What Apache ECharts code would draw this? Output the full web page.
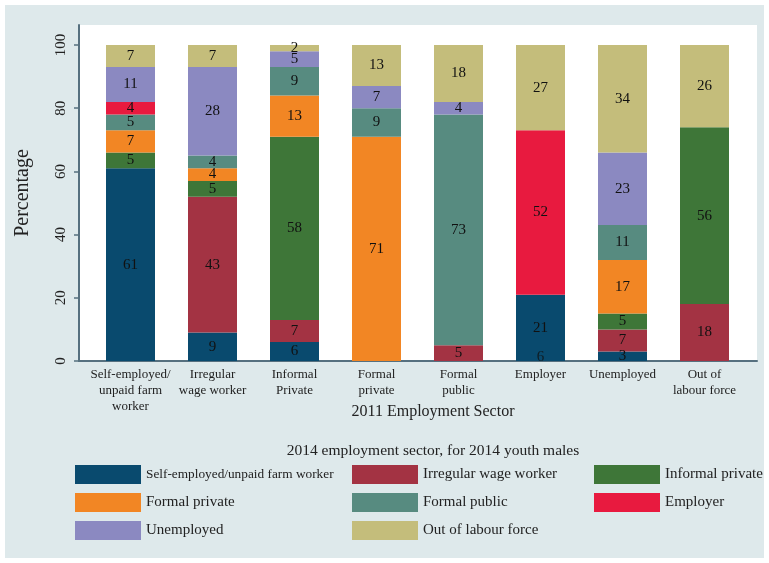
<!DOCTYPE html>
<html>
<head>
<meta charset="utf-8">
<script src="https://cdn.jsdelivr.net/npm/echarts@6/dist/echarts.min.js"></script>
<style>
	html, body { margin: 0; padding: 0; background: #fff; }
	#main { position: absolute; left: 5px; top: 5px; width: 759px; height: 553px; }
</style>
</head>
<body>
<div id="main"></div>
<script>
// 2011 sector (x axis)
var categories = ['Self-employed/\nunpaid farm\nworker', 'Irregular\nwage worker', 'Informal\nPrivate', 'Formal\nprivate',
	'Formal\npublic', 'Employer', 'Unemployed', 'Out of\nlabour force'];

// 2014 sector shares, one array per stacked segment
var selfEmployed = [61, 9, 6, 0, 0, 21, 3, 0];
var irregularWage = [0, 43, 7, 0, 5, 0, 7, 18];
var informalPrivate = [5, 5, 58, 0, 0, 0, 5, 56];
var formalPrivate = [7, 4, 13, 71, 0, 0, 17, 0];
var formalPublic = [5, 4, 9, 9, 73, 0, 11, 0];
var employer = [4, 0, 0, 0, 0, 52, 0, 0];
var unemployed = [11, 28, 5, 7, 4, 0, 23, 0];
var outOfLabour = [7, 7, 2, 13, 18, 27, 34, 26];

var yTicks = [0, 20, 40, 60, 80, 100];

// stray label printed at the foot of the Employer bar
var extraLabels = [['Employer', 1.2, '6']];

var FONT = 'Liberation Serif';
var AXIS_COLOR = '#56707f';
var Y_MAX = 106.33;

var seriesDefs = [
	{ name: 'Self-employed/unpaid farm worker', data: selfEmployed, color: '#094a6e' },
	{ name: 'Irregular wage worker', data: irregularWage, color: '#a33343' },
	{ name: 'Informal private', data: informalPrivate, color: '#3e7638' },
	{ name: 'Formal private', data: formalPrivate, color: '#f28624' },
	{ name: 'Formal public', data: formalPublic, color: '#578b80' },
	{ name: 'Employer', data: employer, color: '#e81a3f' },
	{ name: 'Unemployed', data: unemployed, color: '#8b89c1' },
	{ name: 'Out of labour force', data: outOfLabour, color: '#c4bd7b' }
];

var series = seriesDefs.map(function (d) {
	return {
		name: d.name,
		type: 'bar',
		stack: 'total',
		xAxisIndex: 0,
		yAxisIndex: 0,
		barWidth: 49,
		data: d.data,
		itemStyle: { color: d.color },
		label: {
			show: true,
			position: 'inside',
			color: '#111',
			fontFamily: FONT,
			fontSize: 15,
			formatter: function (p) { return p.value > 0 ? p.value : ''; }
		}
	};
});

series.push({
	type: 'scatter',
	xAxisIndex: 0,
	yAxisIndex: 0,
	symbolSize: 0,
	silent: true,
	data: extraLabels.map(function (e) { return [e[0], e[1]]; }),
	label: {
		show: true,
		position: 'inside',
		color: '#111',
		fontFamily: FONT,
		fontSize: 15,
		formatter: function (p) { return extraLabels[p.dataIndex][2]; }
	}
});

function legendCol(left, names) {
	return {
		orient: 'vertical',
		left: left,
		top: 460,
		padding: 0,
		itemWidth: 66,
		itemHeight: 19,
		itemGap: 9,
		icon: 'rect',
		selectedMode: false,
		textStyle: { fontFamily: FONT, fontSize: 15, color: '#222' },
		data: names.map(function (n) {
			if (n === 'Self-employed/unpaid farm worker') {
				return { name: n, textStyle: { fontSize: 13.3 } };
			}
			return { name: n };
		})
	};
}

var option = {
	backgroundColor: '#dee9eb',
	animation: false,
	title: [
		{
			text: '2011 Employment Sector',
			left: 423, top: 394, textAlign: 'center',
			textStyle: { fontFamily: FONT, fontSize: 16, fontWeight: 'normal', color: '#222' }
		},
		{
			text: '2014 employment sector, for 2014 youth males',
			left: 423, top: 433, textAlign: 'center',
			textStyle: { fontFamily: FONT, fontSize: 15.5, fontWeight: 'normal', color: '#222' }
		}
	],
	legend: [
		legendCol(70, ['Self-employed/unpaid farm worker', 'Formal private', 'Unemployed']),
		legendCol(347, ['Irregular wage worker', 'Formal public', 'Out of labour force']),
		legendCol(589, ['Informal private', 'Employer'])
	],
	grid: [
		{ left: 84.5, right: 18.5, top: 20, bottom: 197 },
		{ left: 72, right: 7, top: 20, bottom: 197, show: true, backgroundColor: '#fff', borderWidth: 0 }
	],
	xAxis: [
		{
			type: 'category', gridIndex: 0, data: categories,
			axisLine: { show: false }, axisTick: { show: false },
			axisLabel: { fontFamily: FONT, fontSize: 13, color: '#222', lineHeight: 16, margin: 6, interval: 0 }
		},
		{
			type: 'value', gridIndex: 1, min: 0, max: 1,
			axisLine: { show: true, lineStyle: { color: AXIS_COLOR, width: 2 } },
			axisTick: { show: false }, axisLabel: { show: false }, splitLine: { show: false }
		}
	],
	yAxis: [
		{
			type: 'value', gridIndex: 0, min: 0, max: Y_MAX, show: false, splitLine: { show: false }
		},
		{
			type: 'value', gridIndex: 1, min: 0, max: Y_MAX,
			name: 'Percentage', nameLocation: 'middle', nameGap: 46,
			nameTextStyle: { fontFamily: FONT, fontSize: 20, color: '#222' },
			axisLine: { show: true, lineStyle: { color: AXIS_COLOR, width: 2 } },
			axisTick: { show: true, length: 5, customValues: yTicks, lineStyle: { color: AXIS_COLOR, width: 1.5 } },
			axisLabel: { customValues: yTicks, rotate: 90, margin: 10, fontFamily: FONT, fontSize: 15, color: '#222' },
			splitLine: { show: false }
		}
	],
	series: series
};

var chart = echarts.init(document.getElementById('main'));
chart.setOption(option);
</script>
</body>
</html>
